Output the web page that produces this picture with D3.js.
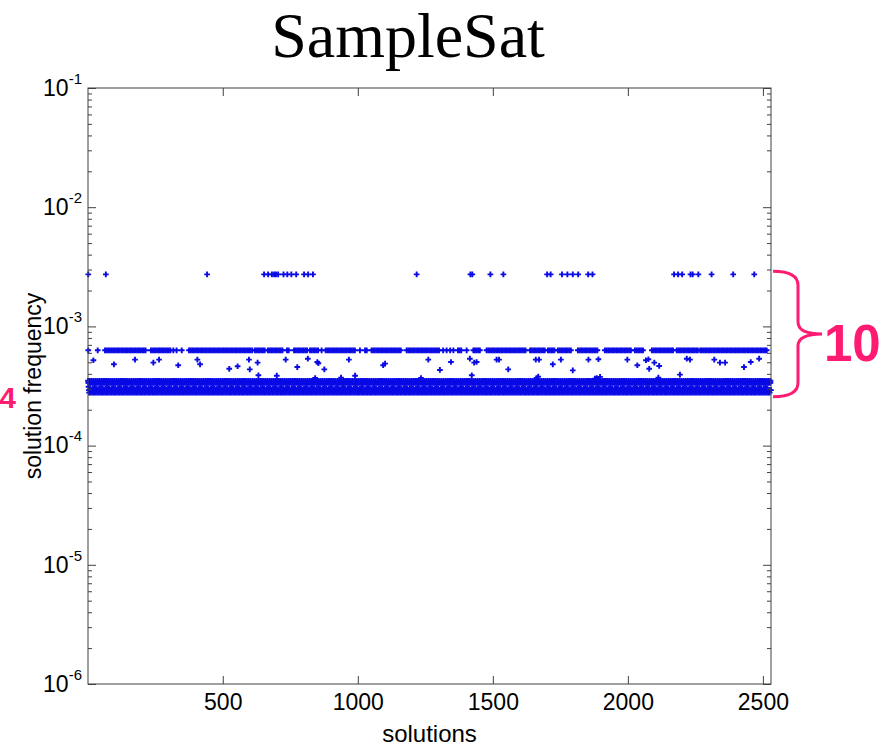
<!DOCTYPE html>
<html>
<head>
<meta charset="utf-8">
<script src="https://cdn.jsdelivr.net/npm/d3@7"></script>
<style>
  body { margin: 0; background: #fff; }
  svg { display: block; }
</style>
</head>
<body>
<div id="chart"></div>
<script>
// ---- data ----
const N_SOLUTIONS = 2530;
const X_TICKS = [500, 1000, 1500, 2000, 2500];
const Y_TICKS = [1e-6, 1e-5, 1e-4, 1e-3, 1e-2, 1e-1];

// rare solutions sampled ~10x more often
const topLevel = 2.73e-3;
const topIdx = [2, 67, 442, 653, 668, 682, 690, 697, 705, 725, 739, 754, 772, 801, 816, 834,
    1218, 1417, 1424, 1491, 1539, 1701, 1714, 1756, 1776, 1796, 1816, 1853, 1869,
    2171, 2186, 2201, 2232, 2240, 2261, 2310, 2390, 2468];

// second row (~6.3e-4): index ranges where the row is filled, one point every midStep solutions
const midLevel = 6.3e-4;
const midStep = 6;
const midRuns = [[2, 2], [37, 37], [64, 218], [234, 308], [317, 317], [329, 329], [348, 348],
    [375, 612], [619, 656], [667, 723], [738, 749], [764, 816], [823, 853], [866, 866],
    [881, 989], [1008, 1008], [1027, 1038], [1051, 1163], [1181, 1305], [1316, 1316],
    [1329, 1329], [1342, 1342], [1354, 1354], [1371, 1385], [1403, 1403], [1428, 1452],
    [1477, 1625], [1638, 1693], [1704, 1730], [1741, 1792], [1815, 1889], [1915, 2014],
    [2026, 2056], [2089, 2167], [2181, 2260], [2268, 2519]];

// loose points between the row and the band
const scatterIdx = [21, 97, 175, 243, 264, 335, 406, 416, 524, 555, 597, 600, 629, 632, 733, 776,
    815, 850, 854, 876, 967, 1094, 1101, 1261, 700, 842, 938, 990, 1234, 1345, 1415, 1431,
    1440, 1514, 1523, 1659, 1671, 1722, 1752, 1854, 1891, 1304, 1422, 1557, 1668, 1662, 1796,
    1885, 1998, 2035, 2067, 2076, 2079, 2098, 2116, 2113, 2193, 2218, 2230, 2320, 2341, 2360,
    2430, 2455, 2486, 1878, 1897];
const scatterFreq = [5.2e-4, 4.81e-4, 5.26e-4, 4.97e-4, 5.26e-4, 4.72e-4, 5.26e-4, 4.81e-4,
    4.41e-4, 4.63e-4, 5.26e-4, 4.36e-4, 4.97e-4, 3.89e-4, 5.26e-4, 4.56e-4, 5.36e-4, 5.03e-4,
    4.91e-4, 4.36e-4, 5.26e-4, 4.72e-4, 4.87e-4, 5.26e-4, 3.86e-4, 3.69e-4, 3.72e-4, 3.86e-4,
    3.69e-4, 5.03e-4, 5.36e-4, 4.97e-4, 5.03e-4, 5.26e-4, 5.26e-4, 5.26e-4, 5.26e-4, 4.81e-4,
    5.26e-4, 5.26e-4, 5.3e-4, 4.31e-4, 3.89e-4, 4.36e-4, 3.79e-4, 3.69e-4, 4.28e-4, 3.69e-4,
    5.26e-4, 4.72e-4, 5.2e-4, 5.3e-4, 4.41e-4, 4.97e-4, 4.66e-4, 3.72e-4, 3.94e-4, 5.36e-4,
    5.26e-4, 5.26e-4, 4.97e-4, 4.97e-4, 4.56e-4, 5.03e-4, 5.36e-4, 3.64e-4, 3.77e-4];

// dense band at the bottom: sub-rows covering the whole index range, with their spacing
const bandLevels = [3.5e-4, 3.37e-4, 3.12e-4, 2.92e-4, 2.78e-4];
const bandSteps = [7, 3, 23, 3, 6];
const bandRuns = [[1, 2530]];

// brace annotation
const braceTop = 2.9e-3;
const braceBottom = 2.57e-4;

// ---- layout ----
const WIDTH = 881;
const HEIGHT = 748;
const MARGIN = { top: 88, bottom: 64, left: 88, right: 110 };
const X0 = MARGIN.left, X1 = WIDTH - MARGIN.right;   // 771
const Y0 = MARGIN.top, Y1 = HEIGHT - MARGIN.bottom;  // 684

const FONT = "'Liberation Sans', Arial, Helvetica, sans-serif";
const BLUE = "#0a0ae6";
const PINK = "#ff1a72";
const AXIS = "#404040";

const svg = d3.select("#chart").append("svg")
    .attr("width", WIDTH)
    .attr("height", HEIGHT);

const x = d3.scaleLinear().domain([1, N_SOLUTIONS]).range([X0, X1]);
const y = d3.scaleLog().domain([1e-6, 1e-1]).range([Y1, Y0]);

// title
svg.append("text")
    .text("SampleSat")
    .attr("x", 408)
    .attr("y", 57)
    .attr("text-anchor", "middle")
    .attr("font-family", "'Liberation Serif', 'Times New Roman', serif")
    .attr("font-size", 64)
    .attr("fill", "#000");

// points
const points = [];
bandRuns.forEach(([a, b]) => {
    bandLevels.forEach((lvl, k) => {
        for (let i = a + k; i <= b; i += bandSteps[k]) points.push({ idx: i, freq: lvl });
    });
});
midRuns.forEach(([a, b]) => {
    for (let i = a; i <= b; i += midStep) points.push({ idx: i, freq: midLevel });
});
scatterIdx.forEach((i, k) => points.push({ idx: i, freq: scatterFreq[k] }));
topIdx.forEach(i => points.push({ idx: i, freq: topLevel }));

svg.append("g")
    .selectAll("path")
    .data(points)
    .join("path")
    .attr("transform", d => `translate(${x(d.idx)},${y(d.freq)})`)
    .attr("d", d3.symbol(d3.symbolCross, 18))
    .attr("fill", BLUE);

// axes
function styleAxis(g) {
    g.select(".domain").remove();
    g.selectAll(".tick line").attr("stroke", AXIS);
    g.attr("font-family", FONT).attr("font-size", 23);
    g.selectAll(".tick text").attr("fill", "#000");
}

svg.append("g")
    .attr("transform", `translate(0,${Y1})`)
    .call(d3.axisBottom(x).tickValues(X_TICKS).tickSize(-8).tickPadding(10).tickFormat(d3.format("d")))
    .call(styleAxis);

svg.append("g")
    .attr("transform", `translate(0,${Y0})`)
    .call(d3.axisTop(x).tickValues(X_TICKS).tickSize(-8).tickFormat(""))
    .call(styleAxis);

const minorTicks = y.ticks().filter(v => !Y_TICKS.some(t => Math.abs(v / t - 1) < 1e-6));

const gyLeft = svg.append("g")
    .attr("transform", `translate(${X0},0)`)
    .call(d3.axisLeft(y).tickValues(Y_TICKS).tickSize(-8).tickPadding(6).tickFormat(() => ""))
    .call(styleAxis);

gyLeft.selectAll(".tick text").each(function (d) {
    const t = d3.select(this);
    t.append("tspan").text("10");
    t.append("tspan")
        .attr("dy", -12)
        .attr("font-size", 15)
        .text(Math.round(Math.log10(d)));
});

svg.append("g")
    .attr("transform", `translate(${X0},0)`)
    .call(d3.axisLeft(y).tickValues(minorTicks).tickSize(-4).tickFormat(""))
    .call(styleAxis);

svg.append("g")
    .attr("transform", `translate(${X1},0)`)
    .call(d3.axisRight(y).tickValues(Y_TICKS).tickSize(-8).tickFormat(""))
    .call(styleAxis);

svg.append("g")
    .attr("transform", `translate(${X1},0)`)
    .call(d3.axisRight(y).tickValues(minorTicks).tickSize(-4).tickFormat(""))
    .call(styleAxis);

// box
svg.append("rect")
    .attr("x", X0)
    .attr("y", Y0)
    .attr("width", X1 - X0)
    .attr("height", Y1 - Y0)
    .attr("fill", "none")
    .attr("stroke", AXIS)
    .attr("stroke-width", 1);

// axis labels
svg.append("text")
    .text("solutions")
    .attr("x", (X0 + X1) / 2)
    .attr("y", 742)
    .attr("text-anchor", "middle")
    .attr("font-family", FONT)
    .attr("font-size", 24)
    .attr("fill", "#000");

svg.append("text")
    .text("solution frequency")
    .attr("transform", `translate(41,${(Y0 + Y1) / 2}) rotate(-90)`)
    .attr("text-anchor", "middle")
    .attr("font-family", FONT)
    .attr("font-size", 23)
    .attr("fill", "#000");

// brace with the "10" ratio
const yT = y(braceTop), yB = y(braceBottom), yM = (yT + yB) / 2;
const bx0 = X1 + 2, bx1 = X1 + 27, bx2 = X1 + 51;
const brace = d3.path();
brace.moveTo(bx0, yT);
brace.quadraticCurveTo(bx1, yT, bx1, yT + 14);
brace.lineTo(bx1, yM - 12);
brace.quadraticCurveTo(bx1, yM, bx2, yM);
brace.quadraticCurveTo(bx1, yM, bx1, yM + 12);
brace.lineTo(bx1, yB - 14);
brace.quadraticCurveTo(bx1, yB, bx0, yB);

svg.append("path")
    .attr("d", brace.toString())
    .attr("fill", "none")
    .attr("stroke", PINK)
    .attr("stroke-width", 3);

svg.append("text")
    .text("10")
    .attr("x", bx2 + 2)
    .attr("y", yM + 27)
    .attr("font-family", FONT)
    .attr("font-weight", "bold")
    .attr("font-size", 51)
    .attr("fill", PINK);

svg.append("text")
    .text("4")
    .attr("x", 16)
    .attr("y", 408)
    .attr("text-anchor", "end")
    .attr("font-family", FONT)
    .attr("font-weight", "bold")
    .attr("font-size", 30)
    .attr("fill", PINK);
</script>
</body>
</html>
